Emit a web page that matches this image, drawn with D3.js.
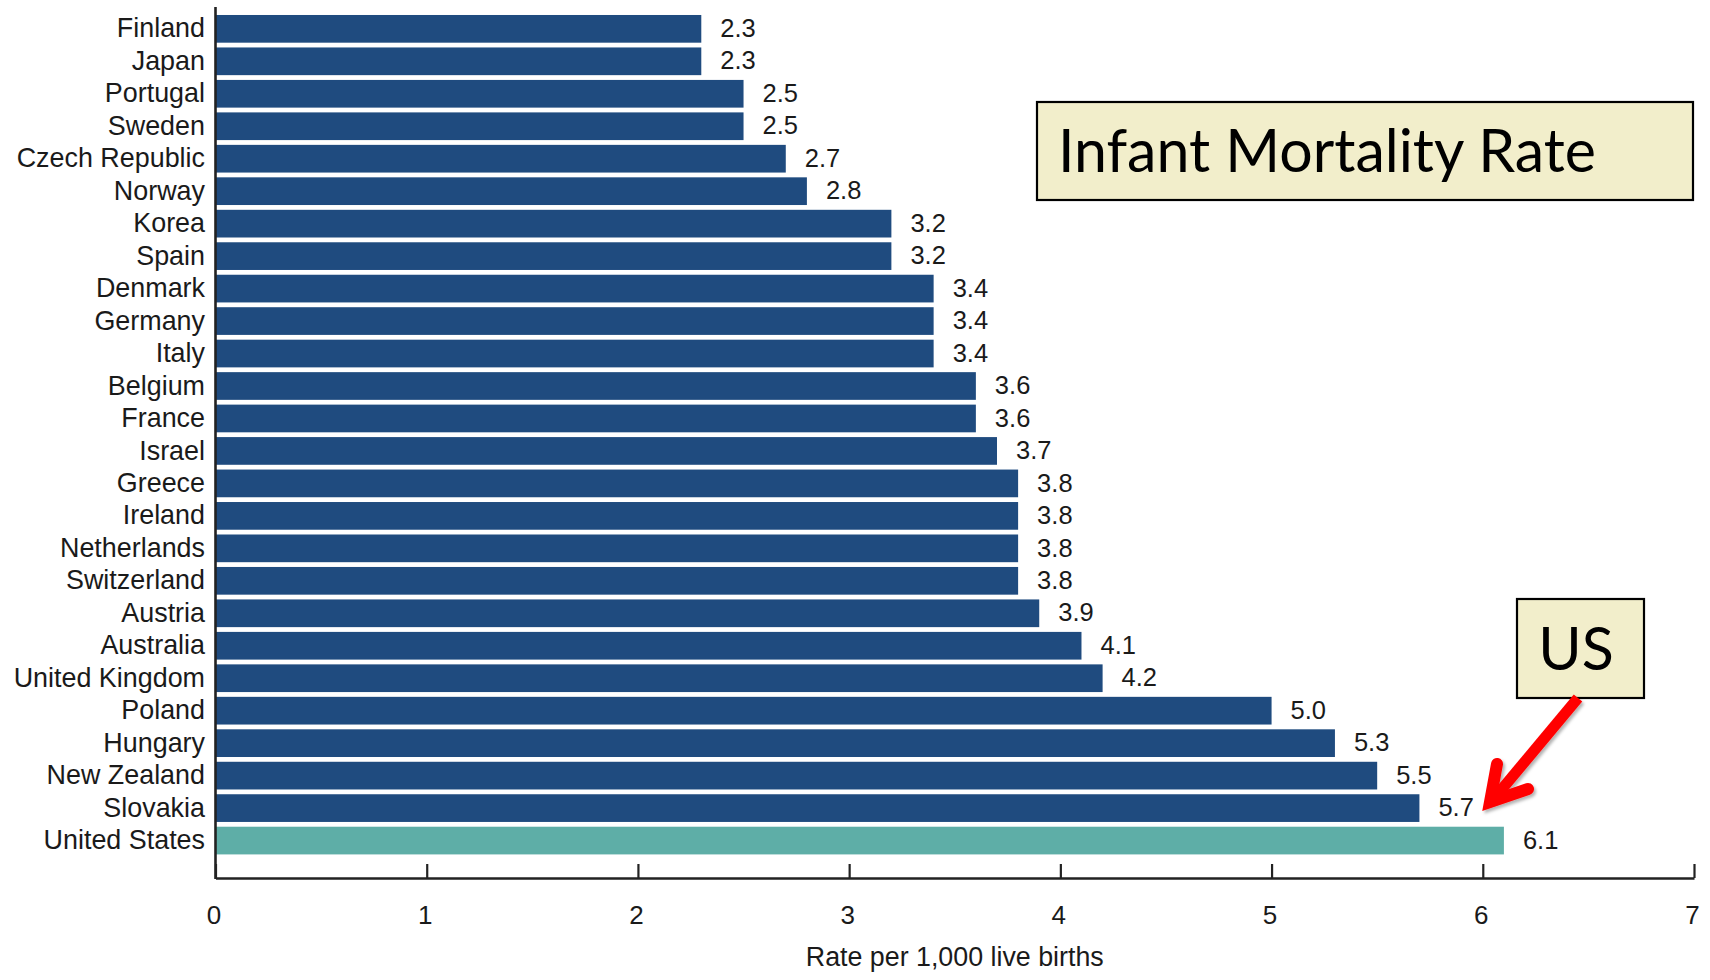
<!DOCTYPE html>
<html>
<head>
<meta charset="utf-8">
<script src="https://cdn.jsdelivr.net/npm/d3@7"></script>
<style>
  html, body { margin: 0; padding: 0; background: #ffffff; }
  svg { display: block; }
</style>
</head>
<body>
<svg id="chart" width="1710" height="980"></svg>
<script>
// ---- data ----
const countries = ["Finland","Japan","Portugal","Sweden","Czech Republic","Norway","Korea","Spain",
  "Denmark","Germany","Italy","Belgium","France","Israel","Greece","Ireland","Netherlands",
  "Switzerland","Austria","Australia","United Kingdom","Poland","Hungary","New Zealand",
  "Slovakia","United States"];
const rates = [2.3,2.3,2.5,2.5,2.7,2.8,3.2,3.2,3.4,3.4,3.4,3.6,3.6,3.7,3.8,3.8,3.8,3.8,3.9,4.1,4.2,5.0,5.3,5.5,5.7,6.1];
const highlight = ["United States"];
const xTicks = [0,1,2,3,4,5,6,7];
const xTitle = "Rate per 1,000 live births";
const titleText = "Infant Mortality Rate";
const calloutText = "US";

const data = countries.map((c, i) => ({country: c, value: rates[i]}));

const svg = d3.select("#chart");
const FONT = "'Liberation Sans', Arial, Helvetica, sans-serif";

const x = d3.scaleLinear().domain([0, 7]).range([215.5, 1694]);
const y = d3.scaleBand().domain(countries).range([12.6, 856.8]).paddingInner(0.147).paddingOuter(0.0735);

// defs: shadow for arrow
const defs = svg.append("defs");
const f = defs.append("filter").attr("id","shadow").attr("x","-20%").attr("y","-20%").attr("width","150%").attr("height","150%");
f.append("feDropShadow").attr("dx",2).attr("dy",2.5).attr("stdDeviation",1.6).attr("flood-color","#000").attr("flood-opacity",0.3);

// bars
svg.append("g").selectAll("rect").data(data).join("rect")
  .attr("x", x(0))
  .attr("y", d => y(d.country))
  .attr("width", d => x(d.value) - x(0))
  .attr("height", y.bandwidth())
  .attr("fill", d => highlight.includes(d.country) ? "#5EAEA7" : "#1F4B7F");

// value labels
svg.append("g").selectAll("text").data(data).join("text")
  .attr("x", d => x(d.value) + 19)
  .attr("y", d => y(d.country) + y.bandwidth() / 2)
  .attr("dy", "0.32em")
  .attr("font-family", FONT)
  .attr("font-size", 25.5)
  .attr("fill", "#1a1a1a")
  .text(d => d.value.toFixed(1));

// y axis (labels)
const yAxis = d3.axisLeft(y).tickSize(0).tickPadding(10.5);
const gy = svg.append("g").attr("transform", `translate(${x(0)},0)`).call(yAxis);
gy.select(".domain").remove();
gy.selectAll("text").attr("font-family", FONT).attr("font-size", 26.9).attr("fill", "#1a1a1a");

// y axis line
svg.append("line")
  .attr("x1", x(0)).attr("x2", x(0))
  .attr("y1", 7).attr("y2", 879)
  .attr("stroke", "#222").attr("stroke-width", 2.6);

// x axis
const xAxis = d3.axisBottom(x).tickValues(xTicks).tickFormat(d3.format("d"))
  .tickSizeInner(-14).tickSizeOuter(0).tickPadding(28);
const gx = svg.append("g").attr("transform", "translate(0,878)").call(xAxis);
gx.select(".domain").attr("stroke", "#222").attr("stroke-width", 2.6);
gx.selectAll(".tick line").attr("stroke", "#222").attr("stroke-width", 2.2);
gx.selectAll("text").attr("font-family", FONT).attr("font-size", 26).attr("fill", "#1a1a1a").attr("dx", "-2");

// x axis title
svg.append("text")
  .attr("x", (x(0) + x(7)) / 2)
  .attr("y", 966)
  .attr("text-anchor", "middle")
  .attr("font-family", FONT)
  .attr("font-size", 26.8)
  .attr("fill", "#1a1a1a")
  .text(xTitle);

// title box
const TFONT = "Lato, 'Open Sans', 'Noto Sans', sans-serif";
svg.append("rect")
  .attr("x", 1037).attr("y", 102).attr("width", 656).attr("height", 98)
  .attr("fill", "#F2EECB").attr("stroke", "#000").attr("stroke-width", 2.2);
const t = svg.append("text")
  .attr("x", 1058).attr("y", 172)
  .attr("font-family", TFONT)
  .attr("font-size", 58)
  .attr("fill", "#000")
  .text(titleText);
const tw = t.node().getComputedTextLength();
const tfs = 58 * 538 / tw;
t.attr("font-size", tfs);

// US callout box
svg.append("rect")
  .attr("x", 1517).attr("y", 599).attr("width", 127).attr("height", 99)
  .attr("fill", "#F2EECB").attr("stroke", "#000").attr("stroke-width", 2.2);
svg.append("text")
  .attr("x", 1576).attr("y", 670)
  .attr("text-anchor", "middle")
  .attr("font-family", TFONT)
  .attr("font-size", tfs)
  .attr("fill", "#000")
  .text(calloutText);

// red arrow
const arrow = svg.append("g").attr("filter", "url(#shadow)");
arrow.append("path")
  .attr("d", "M1578,698 L1492,801")
  .attr("fill", "none").attr("stroke", "#FF0000").attr("stroke-width", 11).attr("stroke-linecap", "butt");
arrow.append("path")
  .attr("d", "M1497,764 L1490,802 L1528,789")
  .attr("fill", "none").attr("stroke", "#FF0000").attr("stroke-width", 12)
  .attr("stroke-linecap", "round").attr("stroke-linejoin", "miter").attr("stroke-miterlimit", 10);
</script>
</body>
</html>
